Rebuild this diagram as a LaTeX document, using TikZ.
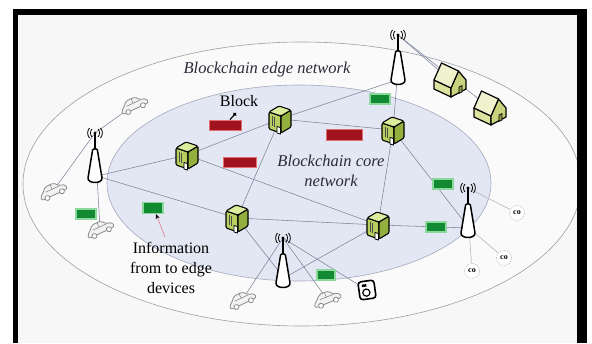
\documentclass[tikz,border=0pt]{standalone}
\usepackage{fontspec}
\setmainfont{Liberation Serif}
\usetikzlibrary{arrows.meta}

\definecolor{pagebg}{HTML}{F7F7F7}
\definecolor{edgefill}{HTML}{FAFAFA}
\definecolor{corefill}{HTML}{E3E6F3}
\definecolor{ringline}{HTML}{9C9EA8}
\definecolor{coreline}{HTML}{A4A8BC}
\definecolor{linkcol}{HTML}{7C859C}
\definecolor{srvfront}{HTML}{B8CE5E}
\definecolor{srvside}{HTML}{93B03E}
\definecolor{srvtop}{HTML}{DCEB9C}
\definecolor{blockred}{HTML}{A0121E}
\definecolor{blockedge}{HTML}{E27070}
\definecolor{msggreen}{HTML}{118A32}
\definecolor{msgedge}{HTML}{8CD89C}
\definecolor{housewall}{HTML}{DCE39E}
\definecolor{housegable}{HTML}{C9D27C}
\definecolor{houseroof}{HTML}{EFF2CC}
\definecolor{housedoor}{HTML}{8E9A4A}
\definecolor{labelink}{HTML}{2A2A3A}
\definecolor{carline}{HTML}{8A8A8A}
\definecolor{carbody}{HTML}{F2F2F2}
\definecolor{pointer}{HTML}{E08898}

\pgfdeclarelayer{regions}
\pgfdeclarelayer{links}
\pgfsetlayers{regions,links,main}

\tikzset{
  link/.style={draw=linkcol, line width=0.55pt},
  sensorlink/.style={draw=gray!60, line width=0.55pt},
  blockmsg/.style={rectangle, fill=blockred, draw=blockedge, line width=0.9pt,
    minimum width=32pt, minimum height=10pt, inner sep=0pt},
  infomsg/.style={rectangle, fill=msggreen, draw=msgedge, line width=1.1pt,
    minimum width=20pt, minimum height=10pt, inner sep=0pt},
  cosensor/.style={circle, draw=gray!60, dash pattern=on 1.5pt off 1pt, fill=white,
    minimum size=15pt, inner sep=0pt, font=\fontsize{8}{8}\selectfont\bfseries},
  lbl/.style={font=\fontsize{16}{20}\selectfont, text=labelink, align=center, inner sep=0pt},
  italbl/.style={lbl, font=\fontsize{16.5}{20}\selectfont\itshape},
  server/.pic={
    \begin{scope}[line width=1.1pt, line join=round, rounded corners=1.2pt]
      \filldraw[fill=srvfront] (-11,-7) -- (1,-3) -- (1,14) -- (-11,10) -- cycle;
      \filldraw[fill=srvside] (1,-3) -- (11,-9) -- (11,8) -- (1,14) -- cycle;
      \filldraw[fill=srvtop] (-11,-7) -- (-1,-13) -- (11,-9) -- (1,-3) -- cycle;
    \end{scope}
    \draw[line width=0.7pt, black!70] (-8,-3) -- (-8,7) (-6,-2.4) -- (-6,7.6);
    \filldraw[fill=white, line width=0.8pt] (-3,7.5) -- (0.5,8.6) -- (0.5,15) -- (-3,14) -- cycle;
  },
  tower/.pic={
    \draw[line width=1.6pt] (0,-1) -- (0,17);
    \fill (0,0) circle (1.6);
    \draw[line width=0.8pt] (-3,-4) .. controls (-5,-2) and (-5,2) .. (-3,4)
      (3,-4) .. controls (5,-2) and (5,2) .. (3,4)
      (-5.5,-5) .. controls (-8,-2) and (-8,2) .. (-5.5,5)
      (5.5,-5) .. controls (8,-2) and (8,2) .. (5.5,5);
    \filldraw[fill=white, line width=1.5pt, line join=round]
      (-2.4,17) -- (-7,45) .. controls (-7.5,51) and (7.5,51) .. (7,45) -- (2.4,17)
      .. controls (2.2,15.5) and (-2.2,15.5) .. (-2.4,17) -- cycle;
  },
  car/.pic={
    \filldraw[fill=carbody, draw=carline, line width=0.8pt, rounded corners=2pt]
      (-14,4) -- (-14,0) -- (-10,-2) -- (-6,-7) -- (4,-7) -- (8,-2) -- (14,-1) -- (14,4) -- cycle;
    \draw[carline, line width=0.6pt] (-7,-2) -- (8,-2) (0,-7) -- (0,-2);
    \filldraw[fill=white, draw=carline, line width=0.8pt] (-8,4) circle (2.5) (8,4) circle (2.5);
  },
  camera/.pic={
    \begin{scope}[rotate=8]
      \filldraw[fill=white, line width=1.6pt, rounded corners=3pt] (-8,-9) rectangle (8,9);
      \draw[line width=1.2pt] (-1,2.5) circle (3.6);
      \fill (-4.5,-6) rectangle (0,-3.5);
    \end{scope}
  },
  house/.pic={
    \begin{scope}[line width=1.2pt, line join=round]
      \filldraw[fill=housewall] (-16,0) -- (1,8) -- (1,17) -- (-16,9) -- cycle;
      \filldraw[fill=housegable] (1,8) -- (8.5,-9) -- (16,0) -- (16,9) -- (1,17) -- cycle;
      \filldraw[fill=houseroof] (-16,0) -- (1,8) -- (8.5,-9) -- (-8.5,-17) -- cycle;
    \end{scope}
    \filldraw[fill=housedoor, line width=0.7pt] (9,7) -- (12,5.6) -- (12,12) -- (9,13.4) -- cycle;
  }
}

\begin{document}
\begin{tikzpicture}[x=1pt, y=-1pt]
\useasboundingbox (0,0) rectangle (592,343);

% page, edge network and core network regions
\begin{pgfonlayer}{regions}
\fill[white] (0,0) rectangle (592,343);
\fill[pagebg] (18,15) rectangle (577,343);
\filldraw[fill=edgefill, draw=ringline, line width=0.6pt]
  (302,184) ellipse [x radius=279, y radius=142];
\filldraw[fill=corefill, draw=coreline, line width=0.6pt]
  (299,183) ellipse [x radius=192, y radius=98];
\end{pgfonlayer}

% element positions
\coordinate (S1) at (187,155);
\coordinate (S2) at (280,119);
\coordinate (S3) at (393,130);
\coordinate (S4) at (237,218);
\coordinate (S5) at (378,225);
\coordinate (T1a) at (95,133);  \coordinate (T1) at (97,176);
\coordinate (T2a) at (398,35);  \coordinate (T2) at (397,80);
\coordinate (T3a) at (283,238); \coordinate (T3) at (284,278);
\coordinate (T4a) at (468,188); \coordinate (T4) at (469,228);
\coordinate (C1) at (134,105);
\coordinate (C2) at (53,191);
\coordinate (C3) at (100,229);
\coordinate (C4) at (242,300);
\coordinate (C5) at (327,299);
\coordinate (Cam) at (367,290);
\coordinate (H1) at (450,80);
\coordinate (H2) at (490,108);

% sensors around the right tower
\node[cosensor] (co1) at (517,213) {co};
\node[cosensor] (co2) at (504,258) {co};
\node[cosensor] (co3) at (472,271) {co};

% links
\begin{pgfonlayer}{links}
\draw[link] (T1) -- (S1);
\draw[link] (T1) -- (S4);
\draw[link] (T1a) -- (C1);
\draw[link] (T1a) -- (C2);
\draw[link] (T1) -- (C3);
\draw[link] (S1) -- (S2);
\draw[link] (S1) -- (S5);
\draw[link] (S2) -- (S3);
\draw[link] (S2) -- (S4);
\draw[link] (S2) -- (T2);
\draw[link] (T2) -- (S3);
\draw[link] (T2a) -- (H1);
\draw[link] (T2a) -- (H2);
\draw[link] (S3) -- (S5);
\draw[link] (S3) -- (T4);
\draw[link] (S4) -- (S5);
\draw[link] (S4) -- (T3);
\draw[link] (S5) -- (T3);
\draw[link] (S5) -- (T4);
\draw[link] (T3a) -- (C4);
\draw[link] (T3a) -- (C5);
\draw[link] (T3a) -- (Cam);
\draw[sensorlink] (T4a) -- (co1);
\draw[sensorlink] (T4) -- (co2);
\draw[sensorlink] (T4) -- (co3);
\end{pgfonlayer}

% blocks and edge messages
\node[blockmsg] (B1) at (225,125) {};
\node[blockmsg, minimum width=33pt] (B2) at (240,162) {};
\node[blockmsg, minimum width=36pt, minimum height=11pt] (B3) at (344,135) {};
\node[infomsg] (G1) at (380,99) {};
\node[infomsg] (G2) at (443,184) {};
\node[infomsg] (G3) at (436,227) {};
\node[infomsg, minimum width=18pt] (G4) at (326,275) {};
\node[infomsg] (G5) at (86,214) {};
\node[infomsg, minimum height=11pt] (G6) at (153,208) {};

% devices
\pic at (S1) {server};
\pic at (S2) {server};
\pic at (S3) {server};
\pic at (S4) {server};
\pic at (S5) {server};
\pic at (T1a) {tower};
\pic at (T2a) {tower};
\pic at (T3a) {tower};
\pic at (T4a) {tower};
\pic[rotate=25] at (C1) {car};
\pic[rotate=25] at (C2) {car};
\pic[rotate=25] at (C3) {car};
\pic[rotate=25] at (C4) {car};
\pic[rotate=22] at (C5) {car};
\pic at (Cam) {camera};
\pic at (H1) {house};
\pic at (H2) {house};

% labels
\node[italbl] (edgelbl) at (267,70) {Blockchain edge network};
\node[italbl] (corelbl) at (331,171) {Blockchain core\\network};
\node[lbl, text=black] (blocklbl) at (239,101) {Block};
\node[lbl, text=black] (infolbl) at (171,268) {Information\\from to edge\\devices};

% label pointers
\coordinate (blockptr) at (236,113);
\draw[line width=1.1pt, {Circle[length=3.5pt]}-] (blockptr) -- ([xshift=5pt]B1.north);
\coordinate (infoptr) at (165,237);
\draw[pointer, line width=0.7pt, -{Stealth[black, length=5pt, width=4pt]}] (infoptr) -- ([xshift=3pt]G6.south);

% frame
\fill[black] (13,9) rectangle (18,343);
\fill[black] (13,9) rectangle (587,15);
\fill[black] (577,9) rectangle (587,343);
\end{tikzpicture}
\end{document}
